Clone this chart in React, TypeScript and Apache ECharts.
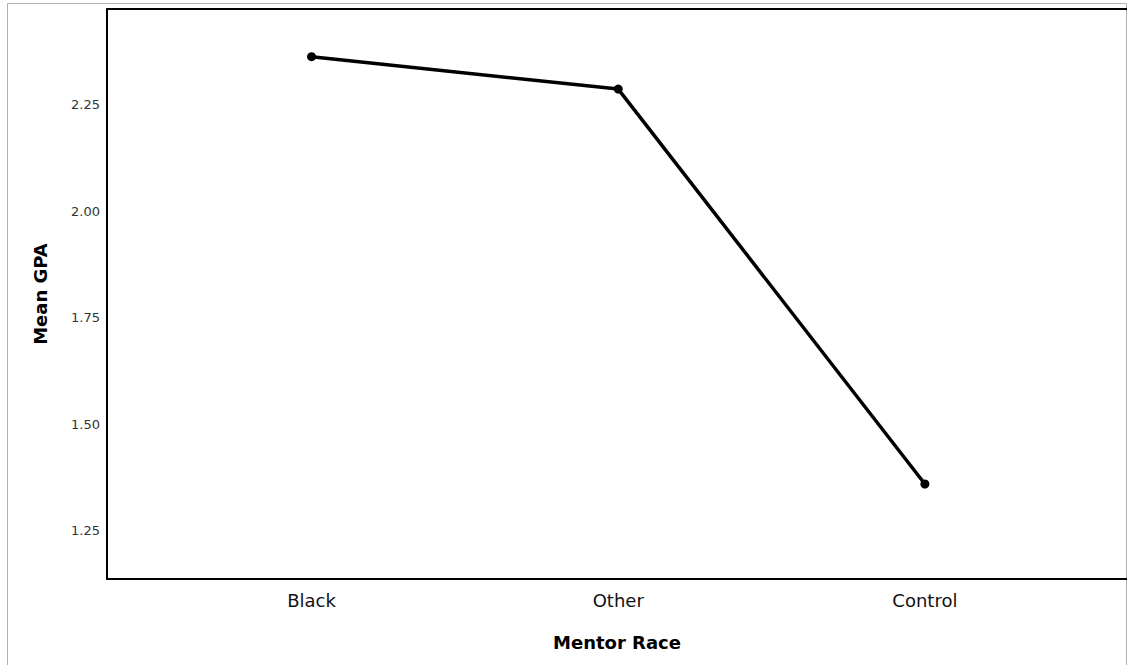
import React, { useEffect, useRef } from "react";
import * as echarts from "echarts";

const categories = ["Black", "Other", "Control"];
const meanGPA = [2.363, 2.287, 1.36];
const yTicks = [1.25, 1.5, 1.75, 2.0, 2.25];

export default function App() {
  const ref = useRef<HTMLDivElement>(null);
  useEffect(() => {
    if (!ref.current) return;
    const chart = echarts.init(ref.current, undefined, { renderer: "svg" });
    const font = "'DejaVu Sans', sans-serif";
    const frame = { show: true, onZero: false, lineStyle: { color: "#000", width: 2 } };
    chart.setOption({
      animation: false,
      backgroundColor: "#fff",
      graphic: [
        {
          type: "rect",
          shape: { x: 7.5, y: 3.5, width: 1119, height: 700 },
          style: { fill: "none", stroke: "#b0b0b0", lineWidth: 1 },
          silent: true,
          z: -1,
        },
      ],
      grid: {
        left: 107,
        top: 9,
        right: 0,
        height: 570,
        show: false,
        containLabel: false,
      },
      xAxis: [
        {
          type: "value",
          position: "bottom",
          min: -0.667,
          max: 2.659,
          name: "Mentor Race",
          nameLocation: "middle",
          nameGap: 54,
          nameTextStyle: { fontFamily: font, fontSize: 18, fontWeight: "bold", color: "#000" },
          axisLine: frame,
          axisTick: { show: false },
          splitLine: { show: false },
          axisLabel: {
            customValues: [0, 1, 2],
            formatter: (v: number) => categories[Math.round(v)] ?? "",
            margin: 12,
            fontFamily: font,
            fontSize: 18,
            color: "#111",
          },
        },
        {
          type: "value",
          position: "top",
          min: -0.667,
          max: 2.659,
          axisLine: frame,
          axisTick: { show: false },
          axisLabel: { show: false },
          splitLine: { show: false },
        },
      ],
      yAxis: {
        type: "value",
        position: "left",
        min: 1.137,
        max: 2.475,
        name: "Mean GPA",
        nameLocation: "middle",
        nameGap: 58,
        nameRotate: 90,
        nameTextStyle: { fontFamily: font, fontSize: 18, fontWeight: "bold", color: "#000" },
        axisLine: frame,
        axisTick: { show: false },
        splitLine: { show: false },
        axisLabel: {
          customValues: yTicks,
          formatter: (v: number) => v.toFixed(2),
          margin: 7,
          fontFamily: font,
          fontSize: 13,
          color: "#333",
        },
      },
      series: [
        {
          type: "line",
          xAxisIndex: 0,
          data: meanGPA.map((v, i) => [i, v]),
          symbol: "circle",
          symbolSize: 9,
          lineStyle: { color: "#000", width: 3.5 },
          itemStyle: { color: "#000" },
        },
      ],
    });
    return () => chart.dispose();
  }, []);
  return (
    <div
      ref={ref}
      style={{ position: "absolute", left: 0, top: 0, width: 1127, height: 665 }}
    />
  );
}
